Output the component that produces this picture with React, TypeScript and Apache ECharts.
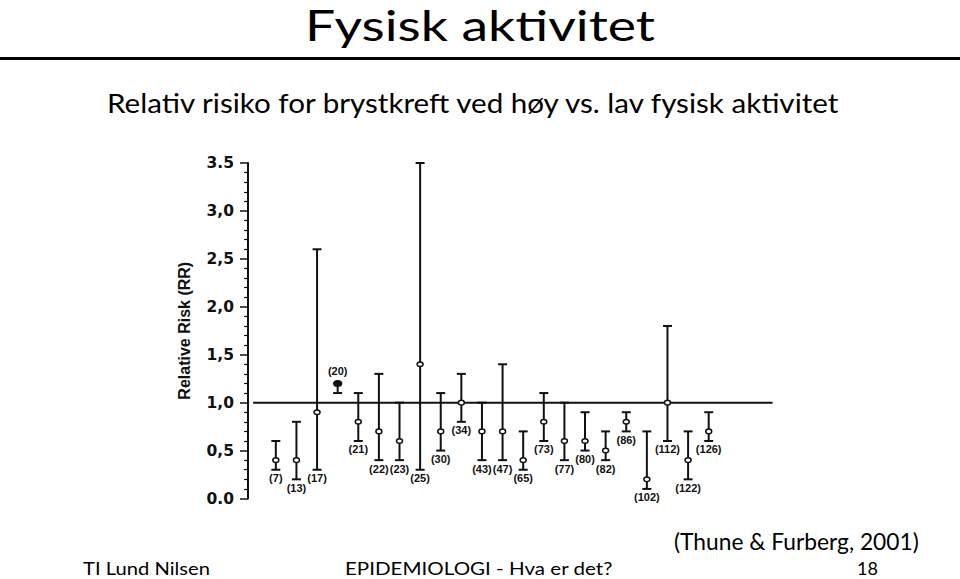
import React, { useEffect, useRef } from "react";
import * as echarts from "echarts";

// ---- data ----
const studyRefs = [7, 13, 17, 20, 21, 22, 23, 25, 30, 34, 43, 47, 65, 73, 77, 80, 82, 86, 102, 112, 122, 126];
const relativeRisk = [0.4, 0.4, 0.9, 1.2, 0.8, 0.7, 0.6, 1.4, 0.7, 1.0, 0.7, 0.7, 0.4, 0.8, 0.6, 0.6, 0.5, 0.8, 0.2, 1.0, 0.4, 0.7];
const ciLower = [0.3, 0.2, 0.3, 1.1, 0.6, 0.4, 0.4, 0.3, 0.5, 0.8, 0.4, 0.4, 0.3, 0.6, 0.4, 0.5, 0.4, 0.7, 0.1, 0.6, 0.2, 0.6];
const ciUpper = [0.6, 0.8, 2.6, 1.2, 1.1, 1.3, 1.0, 3.5, 1.1, 1.3, 1.0, 1.4, 0.7, 1.1, 1.0, 0.9, 0.7, 0.9, 0.7, 1.8, 0.7, 0.9];
const labelAboveRefs = [20];
const yTickLabels = ["0.0", "0,5", "1,0", "1,5", "2,0", "2,5", "3,0", "3.5"];
const referenceRR = 1.0;
const yAxisName = "Relative Risk (RR)";

const slideTitle = "Fysisk aktivitet";
const slideSubtitle = "Relativ risiko for brystkreft ved høy vs. lav fysisk aktivitet";
const citation = "(Thune & Furberg, 2001)";
const footerLeft = "TI Lund Nilsen";
const footerCenter = "EPIDEMIOLOGI - Hva er det?";
const footerRight = "18";

// ---- layout ----
const X_MIN = -1.35;
const X_MAX = 24.1;
const REF_START = -1.1;
const SLIDE_FONT = "Lato";

function measureWidth(text: string, size: number, family: string, weight = "normal") {
  const c = document.createElement("canvas");
  const ctx = c.getContext("2d");
  if (!ctx) return text.length * size * 0.5;
  ctx.font = `${weight} ${size}px ${family}`;
  return ctx.measureText(text).width;
}

function fitText(text: string, left: number, width: number, cy: number, size: number) {
  const w = measureWidth(text, size, SLIDE_FONT);
  return {
    type: "text",
    x: left,
    y: cy,
    scaleX: width / w,
    style: {
      text,
      align: "left",
      verticalAlign: "middle",
      fontFamily: SLIDE_FONT,
      fontSize: size,
      fill: "#000",
    },
  };
}

export default function App() {
  const ref = useRef<HTMLDivElement>(null);

  useEffect(() => {
    if (!ref.current) return;
    const chart = echarts.init(ref.current, null, { renderer: "svg" });

    const data = studyRefs.map((r, i) => [i, relativeRisk[i], ciLower[i], ciUpper[i], r]);

    const option: any = {
      animation: false,
      backgroundColor: "#fff",
      grid: { left: 248, top: 163, right: 187.4, bottom: 80.5, containLabel: false, outerBoundsMode: "none" },
      xAxis: { type: "value", min: X_MIN, max: X_MAX, show: false },
      yAxis: {
        type: "value",
        min: 0,
        max: 3.5,
        interval: 0.5,
        name: yAxisName,
        nameLocation: "middle",
        nameRotate: 90,
        nameGap: 56,
        nameTextStyle: { fontFamily: "Liberation Sans", fontWeight: "bold", fontSize: 16, color: "#111" },
        axisLine: { show: true, onZero: false, lineStyle: { color: "#111", width: 2 } },
        axisTick: { show: true, length: 8, lineStyle: { color: "#111", width: 1.5 } },
        minorTick: { show: true, splitNumber: 5, length: 4, lineStyle: { color: "#111", width: 1.2 } },
        splitLine: { show: false },
        axisLabel: {
          margin: 14,
          fontFamily: "DejaVu Sans",
          fontWeight: "bold",
          fontSize: 15.5,
          color: "#111",
          formatter: (v: number) => yTickLabels[Math.round(v / 0.5)] ?? "",
        },
      },
      series: [
        {
          type: "line",
          data: [
            [REF_START, referenceRR],
            [X_MAX, referenceRR],
          ],
          symbol: "none",
          lineStyle: { color: "#111", width: 2 },
          silent: true,
          z: 1,
        },
        {
          type: "custom",
          data,
          encode: { x: 0, y: [1, 2, 3] },
          z: 2,
          renderItem: (params: any, api: any) => {
            const i = api.value(0);
            const pv = api.value(1);
            const uv = api.value(3);
            const p = api.coord([i, pv]);
            const lo = api.coord([i, api.value(2)]);
            const hi = api.coord([i, uv]);
            const x = p[0];
            const capW = 4.5;
            const studyRef = api.value(4);
            const above = labelAboveRefs.includes(studyRef);
            const filled = pv === uv;
            const stroke = "#111";
            return {
              type: "group",
              children: [
                { type: "line", shape: { x1: x, y1: hi[1], x2: x, y2: lo[1] }, style: { stroke, lineWidth: 2 } },
                { type: "line", shape: { x1: x - capW, y1: hi[1], x2: x + capW, y2: hi[1] }, style: { stroke, lineWidth: 2 } },
                { type: "line", shape: { x1: x - capW, y1: lo[1], x2: x + capW, y2: lo[1] }, style: { stroke, lineWidth: 2 } },
                {
                  type: "ellipse",
                  shape: { cx: x, cy: p[1], rx: filled ? 3.8 : 3, ry: filled ? 2.8 : 2.3 },
                  style: { fill: filled ? stroke : "#fff", stroke, lineWidth: 1.5 },
                },
                {
                  type: "text",
                  x,
                  y: above ? p[1] - 12 : lo[1] + 8.5,
                  style: {
                    text: `(${studyRef})`,
                    align: "center",
                    verticalAlign: "middle",
                    fontFamily: "Liberation Sans",
                    fontWeight: "bold",
                    fontSize: 11,
                    fill: stroke,
                  },
                },
              ],
            };
          },
        },
      ],
      graphic: [
        fitText(slideTitle, 305, 350, 25, 42),
        { type: "rect", shape: { x: 0, y: 57, width: 960, height: 3 }, style: { fill: "#000" } },
        fitText(slideSubtitle, 107, 736, 103, 27),
        fitText(citation, 674, 245, 541, 23),
        fitText(footerLeft, 83, 127, 568, 18),
        fitText(footerCenter, 345, 268, 568, 18),
        fitText(footerRight, 857, 21, 568, 18),
      ],
    };

    chart.setOption(option);
    return () => chart.dispose();
  }, []);

  return (
    <div
      ref={ref}
      style={{ position: "absolute", left: 0, top: 0, width: 960, height: 579, background: "#fff" }}
    />
  );
}
